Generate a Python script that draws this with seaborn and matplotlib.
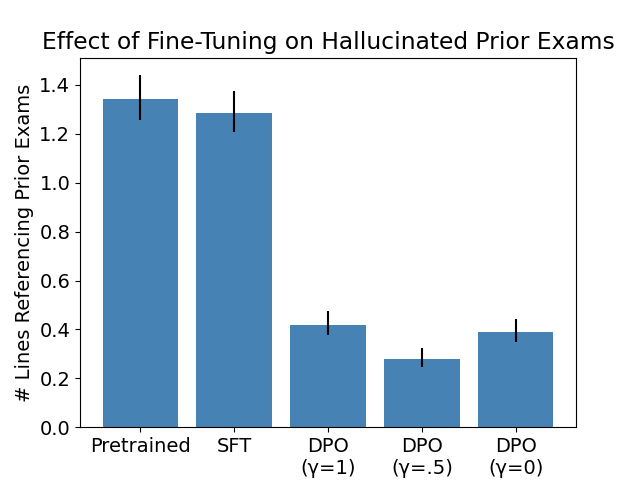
import numpy as np
import pandas as pd
import matplotlib
matplotlib.use("Agg")
import matplotlib.pyplot as plt
import seaborn as sns

# values
models = ["Pretrained", "SFT", "DPO\n(γ=1)", "DPO\n(γ=.5)", "DPO\n(γ=0)"]
mean_lines = [1.341, 1.284, 0.420, 0.281, 0.388]
ci_low = [1.256, 1.208, 0.377, 0.248, 0.347]
ci_high = [1.440, 1.374, 0.474, 0.326, 0.441]

plt.rcParams["font.size"] = 14

df = pd.DataFrame({"model": models, "lines": mean_lines})

fig, ax = plt.subplots(figsize=(6.4, 4.8), dpi=100)
sns.barplot(data=df, x="model", y="lines", color="steelblue", saturation=1,
            errorbar=None, width=0.8, ax=ax)

# asymmetric error bars
yerr = np.array([np.array(mean_lines) - np.array(ci_low),
                 np.array(ci_high) - np.array(mean_lines)])
ax.errorbar(np.arange(len(models)), mean_lines, yerr=yerr, fmt="none",
            ecolor="black", elinewidth=1.5, capsize=0)

ax.set_xlim(-0.64, 4.64)
ax.set_ylim(0, 1.44 * 1.05)
ax.set_xlabel("")
ax.set_ylabel("# Lines Referencing Prior Exams")
ax.set_title("Effect of Fine-Tuning on Hallucinated Prior Exams")

fig.savefig("out.png", dpi=100)
